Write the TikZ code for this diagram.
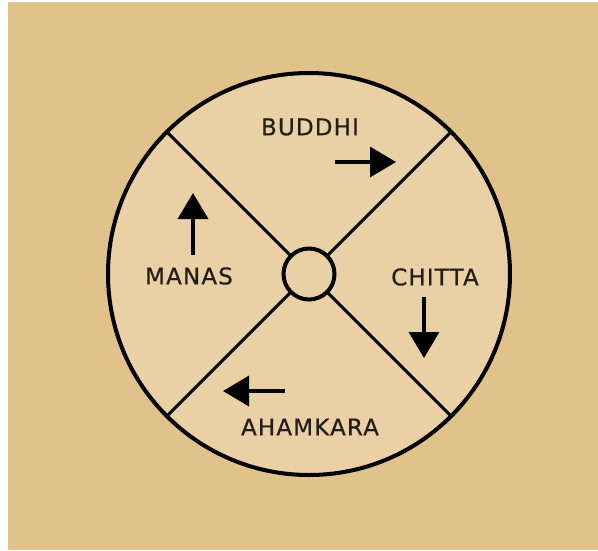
\documentclass[tikz,border=0pt]{standalone}
\usepackage{fontspec}
\setmainfont{DejaVu Sans}[LetterSpace=5,FakeBold=0.6]
\usetikzlibrary{arrows.meta}
\definecolor{bgtan}{RGB}{224,194,138}
\definecolor{disc}{RGB}{233,208,165}
\definecolor{ink}{RGB}{34,30,26}
\begin{document}
\begin{tikzpicture}[x=1pt,y=-1pt,
  lbl/.style={font=\fontsize{23}{27}\selectfont, text=ink, inner sep=0pt},
  flow/.style={line width=3.5pt, -{Triangle[length=26pt,width=30pt]}},
  spoke/.style={line width=3pt},
  ring/.style={circle, draw, line width=4pt, inner sep=0pt, outer sep=0pt}
]
\fill[white] (0,0) rectangle (598,550);
\fill[bgtan] (8,2) rectangle (598,550);
\useasboundingbox (0,0) rectangle (598,550);
\node[ring, fill=disc, minimum size=402pt] (outer) at (309,274) {};
\node[ring, minimum size=51pt] (hub) at (309,274) {};
\foreach \a in {45,135,225,315}{
  \draw[spoke] (hub.\a) -- (outer.\a);
}
\node[lbl] (buddhi) at (310,127) {BUDDHI};
\node[lbl] (manas) at (189,276) {MANAS};
\node[lbl] (chitta) at (435,277) {CHITTA};
\node[lbl] (ahamkara) at (310,427) {AHAMKARA};
\coordinate (b1) at (335,162); \coordinate (b2) at (396,162);
\coordinate (m1) at (193,255); \coordinate (m2) at (193,193);
\coordinate (c1) at (424,297); \coordinate (c2) at (424,358);
\coordinate (h1) at (285,391); \coordinate (h2) at (223,391);
\draw[flow] (b1) -- (b2);
\draw[flow] (m1) -- (m2);
\draw[flow] (c1) -- (c2);
\draw[flow] (h1) -- (h2);
\end{tikzpicture}
\end{document}
